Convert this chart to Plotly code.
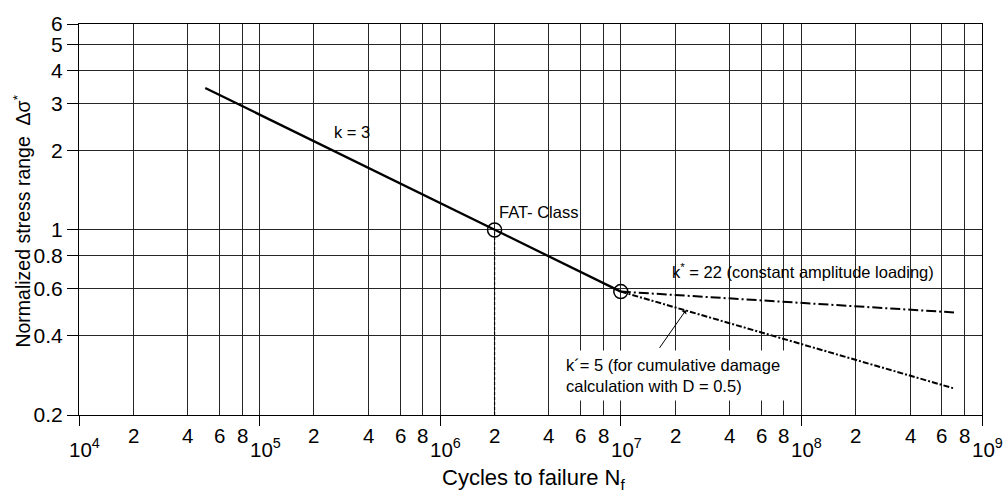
import numpy as np
import plotly.graph_objects as go

# ---- data ----
N_k3 = [5.0e4, 2.0e6, 1.0e7]
S_k3 = [3.44, 1.0, 0.585]

N_k22 = [1.0e7, 7.0e8]
S_k22 = [0.585, 0.488]

N_k5 = [1.0e7, 7.0e8]
S_k5 = [0.585, 0.252]

N_marks = [2.0e6, 1.0e7]
S_marks = [1.0, 0.585]

N_fat_drop = [2.0e6, 2.0e6]
S_fat_drop = [0.2, 1.0]

y_ticks = [0.2, 0.4, 0.6, 0.8, 1, 2, 3, 4, 5, 6]
y_ticktext = ["0.2", "0.4", "0.6", "0.8", "1", "2", "3", "4", "5", "6"]
decades = [4, 5, 6, 7, 8, 9]
minor_mult = [2, 4, 6, 8]

FONT = "Liberation Sans, Arial, Helvetica, sans-serif"
GRID = "#262626"

fig = go.Figure()

fig.add_trace(go.Scatter(x=N_fat_drop, y=S_fat_drop, mode="lines",
                         line=dict(color="black", width=1.2, dash="3px,2px"),
                         showlegend=False, hoverinfo="skip"))
fig.add_trace(go.Scatter(x=N_k3, y=S_k3, mode="lines",
                         line=dict(color="black", width=2.3),
                         showlegend=False))
fig.add_trace(go.Scatter(x=N_k22, y=S_k22, mode="lines",
                         line=dict(color="black", width=2, dash="10px,3px,2px,3px"),
                         showlegend=False))
fig.add_trace(go.Scatter(x=N_k5, y=S_k5, mode="lines",
                         line=dict(color="black", width=2, dash="6px,2px,2px,2px"),
                         showlegend=False))
fig.add_trace(go.Scatter(x=N_marks, y=S_marks, mode="markers",
                         marker=dict(symbol="circle-open", size=14, color="black",
                                     line=dict(width=1.5, color="black")),
                         showlegend=False))

major_x = [10.0 ** d for d in decades]
minor_x = [m * 10.0 ** d for d in decades[:-1] for m in minor_mult]

fig.update_xaxes(type="log", range=[4, 9],
                 tickvals=major_x, showticklabels=False,
                 ticks="outside", ticklen=10, tickcolor="black", tickwidth=1,
                 showgrid=True, gridcolor=GRID, gridwidth=1,
                 minor=dict(tickvals=minor_x, showgrid=True, gridcolor=GRID,
                            gridwidth=1, ticks=""),
                 showline=True, linecolor="black", linewidth=1, mirror=True,
                 zeroline=False)
fig.update_yaxes(type="log", range=[np.log10(0.2), np.log10(6)],
                 tickvals=y_ticks, ticktext=y_ticktext,
                 ticks="outside", ticklen=11, tickcolor="black", tickwidth=1,
                 tickfont=dict(size=21, color="black", family=FONT),
                 showgrid=True, gridcolor=GRID, gridwidth=1,
                 showline=True, linecolor="black", linewidth=1, mirror=True,
                 zeroline=False)

ann = []
# x tick labels
for d in decades[:-1]:
    for m in minor_mult:
        ann.append(dict(x=np.log10(m * 10.0 ** d), y=-0.0525, xref="x", yref="paper",
                        text=str(m), showarrow=False, xanchor="center", yanchor="middle",
                        font=dict(size=20.5, color="black", family=FONT)))
for d in decades:
    ann.append(dict(x=d, y=-0.047, xref="x", yref="paper",
                    text="10<sup>%d</sup>" % d, showarrow=False,
                    xanchor="left", yanchor="top", xshift=-12,
                    font=dict(size=20.5, color="black", family=FONT)))

# axis titles
ann.append(dict(x=0.504, y=-0.1625, xref="paper", yref="paper",
                text="Cycles to failure N<sub>f</sub>", showarrow=False,
                xanchor="center", yanchor="middle",
                font=dict(size=22, color="black", family=FONT)))
ann.append(dict(x=-0.063, y=0.495, xref="paper", yref="paper",
                text="Normalized stress range  \u0394\u03c3<sup>*</sup>", showarrow=False,
                textangle=-90, xanchor="center", yanchor="middle",
                font=dict(size=19.5, color="black", family=FONT)))

# in-plot labels
lab_font = dict(size=16.5, color="black", family=FONT)
ann.append(dict(x=np.log10(2.52e5), y=np.log10(2.35), xref="x", yref="y",
                text="k = 3", showarrow=False, xanchor="left", yanchor="middle",
                font=lab_font))
ann.append(dict(x=np.log10(2.07e6), y=np.log10(1.174), xref="x", yref="y",
                text="FAT- Class", showarrow=False, xanchor="left", yanchor="middle",
                font=lab_font))
ann.append(dict(x=np.log10(1.87e7), y=np.log10(0.697), xref="x", yref="y",
                text="k<sup>*</sup> = 22 (constant amplitude loading)", showarrow=False,
                xanchor="left", yanchor="middle", font=lab_font))
ann.append(dict(x=np.log10(4.6e6), y=np.log10(0.283), xref="x", yref="y",
                text="k\u00b4= 5 (for cumulative damage<br>calculation with D = 0.5)",
                showarrow=False, xanchor="left", yanchor="middle", align="left",
                bgcolor="white", borderpad=5, font=lab_font))
# arrow to k'=5 line
ann.append(dict(x=np.log10(2.29e7), y=np.log10(0.497), xref="x", yref="y",
                text=" ", showarrow=True, ax=-28, ay=40,
                arrowhead=1, arrowsize=1, arrowwidth=1, arrowcolor="black",
                font=dict(size=2)))

fig.update_layout(width=1003, height=493,
                  margin=dict(l=79, r=21, t=15, b=78),
                  paper_bgcolor="white", plot_bgcolor="white",
                  font=dict(family=FONT, color="black"),
                  annotations=ann, showlegend=False)

fig.write_html("out.html")
